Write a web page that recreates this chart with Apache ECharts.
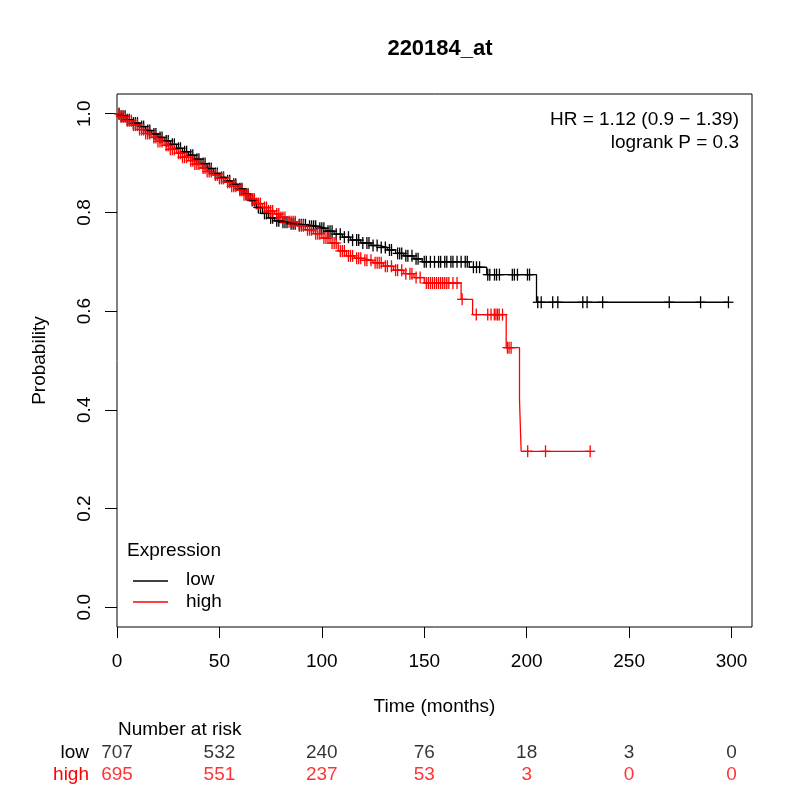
<!DOCTYPE html>
<html>
<head>
	<meta charset="utf-8">
	<title>220184_at</title>
	<script type="text/javascript" src="https://cdn.jsdelivr.net/npm/echarts@6.0.0/dist/echarts.min.js"></script>
	<style>
		html, body { margin: 0; padding: 0; background: #fff; }
	</style>
</head>
<body>
	<div id="main" style="width: 800px;height: 800px"></div>
	<script type="text/javascript">
	// 生存曲线：每个时间点之后的生存概率（阶梯）
	const lowTime = [0,2,5,8,11,14,17,20,23,26,29,32,35,38,41,44,47,50,53,56,59,62,65,68,71,74,77,80,84,88,93,98,102,106,110,114,119,124,128,132,136,140,145,149,172,180.5,204.8];
	const lowSurv = [1,0.995,0.988,0.981,0.974,0.966,0.959,0.952,0.945,0.938,0.930,0.923,0.916,0.908,0.899,0.889,0.879,0.871,0.864,0.857,0.848,0.837,0.824,0.810,0.798,0.789,0.783,0.780,0.777,0.775,0.772,0.768,0.762,0.756,0.750,0.744,0.738,0.733,0.729,0.724,0.717,0.712,0.706,0.700,0.689,0.674,0.618];
	const highTime = [0,2,5,8,11,14,17,20,23,26,29,32,35,38,41,44,47,50,53,56,59,62,65,68,71,74,77,80,84,88,92,96,100,104,108,112,116,120,125,130,135,140,145,150,168,173.6,190,196.5,197.3];
	const highSurv = [1,0.994,0.986,0.977,0.968,0.960,0.952,0.944,0.936,0.928,0.920,0.912,0.905,0.898,0.890,0.883,0.876,0.869,0.861,0.853,0.845,0.836,0.827,0.818,0.810,0.803,0.797,0.790,0.781,0.773,0.765,0.757,0.748,0.738,0.722,0.712,0.707,0.703,0.698,0.691,0.683,0.676,0.668,0.657,0.624,0.593,0.526,0.420,0.316];

	// 删失时间（+ 号）
	const lowCensor = [1,2,3,4,5,6,8,9,10,12,13,15,16,18,19,21,22,24,25,27,28,30,31,33,34,36,37,39,40,42,43,45,46,48,49,51,52,54,55,57,58,60,61,63,64,66,67,69,70,72,73,75,76,78,79,81,82,83,85,86,87,89,90,91,92,94,95,96,97,99,100,101,103,104,105,107,109,111,113,115,117,118,120,122,123,125,127,129,131,133,134,137,138,139,141,142,144,146,147,150,151,153,155,157,158,160,161,163,164,166,168,170,171,174,175.5,177,181,182,184.3,185.3,186.7,193,194,195.5,200.4,201.4,205.4,207.1,212.7,215.2,227.4,229.5,237.1,269.6,284.9,298.5];
	const highCensor = [1,2,3,4,5,6,7,8,9,10,11,12,13,14,15,16,18,19,20,21,22,24,25,26,27,28,30,31,32,33,34,36,37,38,39,40,42,43,44,45,46,48,49,50,51,52,54,55,56,57,58,60,61,62,63,64,66,67,68,69,70,72,73,74,75,76,78,79,80,81,82,84,85,86,87,89,90,91,93,94,95,97,98,99,101,102,103,105,106,107,109,110,111,113,114,115,117,118,119,121,122,124,126,127,128,129,131,132,134,136,137,139,141,143,144,146,148,151,152,153,154,155,156,157,158,159,160,161,162,164,166,168.5,175.4,181,182.6,184.2,185,185.8,186.6,188.2,190.6,191.4,192.4,200.5,209.2,231];

	// 风险人数表
	const riskTimes = [0,50,100,150,200,250,300];
	const lowRisk = [707,532,240,76,18,3,0];
	const highRisk = [695,551,237,53,3,0,0];

	// 坐标轴刻度
	const xTicks = [0,50,100,150,200,250,300];
	const yTicks = [0,0.2,0.4,0.6,0.8,1.0];

	const FONT = "'Liberation Sans', Arial, Helvetica, sans-serif";
	const BLACK = '#000000';
	const RED = '#ff0000';

	// 阶梯函数：某时间点的生存概率
	function survAt(times, surv, t) {
		let p = surv[0];
		for (let i = 0; i < times.length; i++) {
			if (times[i] <= t) p = surv[i];
		}
		return p;
	}
	function curve(times, surv, censor) {
		const pts = times.map((t, i) => [t, surv[i]]);
		const end = censor[censor.length - 1];
		pts.push([end, survAt(times, surv, end)]);
		return pts;
	}
	function marks(times, surv, censor) {
		return censor.map(t => [t, survAt(times, surv, t)]);
	}
	function plusItem(color) {
		return function (params, api) {
			const c = api.coord([api.value(0), api.value(1)]);
			const st = { stroke: color, lineWidth: 1.3 };
			return {
				type: 'group',
				children: [
					{ type: 'line', shape: { x1: c[0] - 5, y1: c[1], x2: c[0] + 5, y2: c[1] }, style: st },
					{ type: 'line', shape: { x1: c[0], y1: c[1] - 6, x2: c[0], y2: c[1] + 6 }, style: st }
				]
			};
		};
	}

	const chart = echarts.init(document.getElementById('main'));

	const option = {
		animation: false,
		backgroundColor: '#fff',
		textStyle: { fontFamily: FONT },
		title: {
			text: '220184_at',
			left: 435,
			top: 33,
			textAlign: 'center',
			textStyle: { fontFamily: FONT, fontSize: 22, fontWeight: 'bold', color: BLACK }
		},
		grid: [
			{ left: 117, right: 48, top: 94, bottom: 173, show: true, borderColor: BLACK, borderWidth: 1, backgroundColor: 'transparent' },
			{ left: 117, right: 48, top: 742, height: 44 }
		],
		xAxis: [
			{
				type: 'value', gridIndex: 0, min: 0, max: 310,
				name: 'Time (months)', nameLocation: 'middle', nameGap: 70,
				nameTextStyle: { fontFamily: FONT, fontSize: 19, color: BLACK },
				axisLine: { show: false, onZero: false },
				splitLine: { show: false },
				axisTick: { show: true, inside: false, length: 11, customValues: xTicks, lineStyle: { color: BLACK } },
				axisLabel: { customValues: xTicks, margin: 25, fontFamily: FONT, fontSize: 19, color: BLACK }
			},
			{ type: 'value', gridIndex: 1, min: 0, max: 310, show: false }
		],
		yAxis: [
			{
				type: 'value', gridIndex: 0, min: -0.04, max: 1.04,
				name: 'Probability', nameLocation: 'middle', nameGap: 68, nameRotate: 90,
				nameTextStyle: { fontFamily: FONT, fontSize: 19, color: BLACK },
				axisLine: { show: false, onZero: false },
				splitLine: { show: false },
				axisTick: { show: true, inside: false, length: 12, customValues: yTicks, lineStyle: { color: BLACK } },
				axisLabel: {
					customValues: yTicks, rotate: 90, margin: 23,
					fontFamily: FONT, fontSize: 19, color: BLACK,
					formatter: v => v.toFixed(1)
				}
			},
			{
				type: 'category', gridIndex: 1, data: ['low', 'high'], inverse: true,
				axisLine: { show: false }, axisTick: { show: false }, splitLine: { show: false },
				axisLabel: {
					interval: 0, margin: 28, fontFamily: FONT, fontSize: 19,
					color: (v) => v === 'high' ? RED : BLACK
				}
			}
		],
		graphic: [
			{ type: 'text', right: 61, top: 110, style: { text: 'HR = 1.12 (0.9 − 1.39)', font: '19px ' + FONT, fill: BLACK, align: 'right' } },
			{ type: 'text', right: 61, top: 133, style: { text: 'logrank P = 0.3', font: '19px ' + FONT, fill: BLACK, align: 'right' } },
			{ type: 'text', left: 127, top: 541, style: { text: 'Expression', font: '19px ' + FONT, fill: BLACK } },
			{ type: 'line', shape: { x1: 133, y1: 581, x2: 168, y2: 581 }, style: { stroke: BLACK, lineWidth: 1.3 } },
			{ type: 'line', shape: { x1: 133, y1: 602, x2: 168, y2: 602 }, style: { stroke: RED, lineWidth: 1.3 } },
			{ type: 'text', left: 186, top: 570, style: { text: 'low', font: '19px ' + FONT, fill: BLACK } },
			{ type: 'text', left: 186, top: 592, style: { text: 'high', font: '19px ' + FONT, fill: BLACK } },
			{ type: 'text', left: 118, top: 720, style: { text: 'Number at risk', font: '19px ' + FONT, fill: BLACK } }
		],
		series: [
			{
				name: 'low', type: 'line', step: 'end', showSymbol: false,
				data: curve(lowTime, lowSurv, lowCensor),
				lineStyle: { color: BLACK, width: 1.3 }, itemStyle: { color: BLACK }
			},
			{
				name: 'high', type: 'line', step: 'end', showSymbol: false,
				data: curve(highTime, highSurv, highCensor),
				lineStyle: { color: RED, width: 1.3 }, itemStyle: { color: RED }
			},
			{
				name: 'low censored', type: 'custom',
				renderItem: plusItem(BLACK),
				data: marks(lowTime, lowSurv, lowCensor)
			},
			{
				name: 'high censored', type: 'custom',
				renderItem: plusItem(RED),
				data: marks(highTime, highSurv, highCensor)
			},
			{
				name: 'risk', type: 'scatter', xAxisIndex: 1, yAxisIndex: 1, symbolSize: 0,
				itemStyle: { color: 'transparent' },
				data: riskTimes.map((t, i) => [t, 'low', lowRisk[i]])
					.concat(riskTimes.map((t, i) => [t, 'high', highRisk[i]])),
				label: {
					show: true, position: 'inside', fontFamily: FONT, fontSize: 19,
					textBorderWidth: 0,
					formatter: p => String(p.value[2]),
					color: BLACK
				},
				labelLayout: { hideOverlap: false }
			}
		]
	};

	// 高风险组的数字用红色
	option.series[4].data = option.series[4].data.map(d => ({
		value: d,
		label: { color: d[1] === 'high' ? RED : BLACK }
	}));

	chart.setOption(option);
	</script>
</body>
</html>
